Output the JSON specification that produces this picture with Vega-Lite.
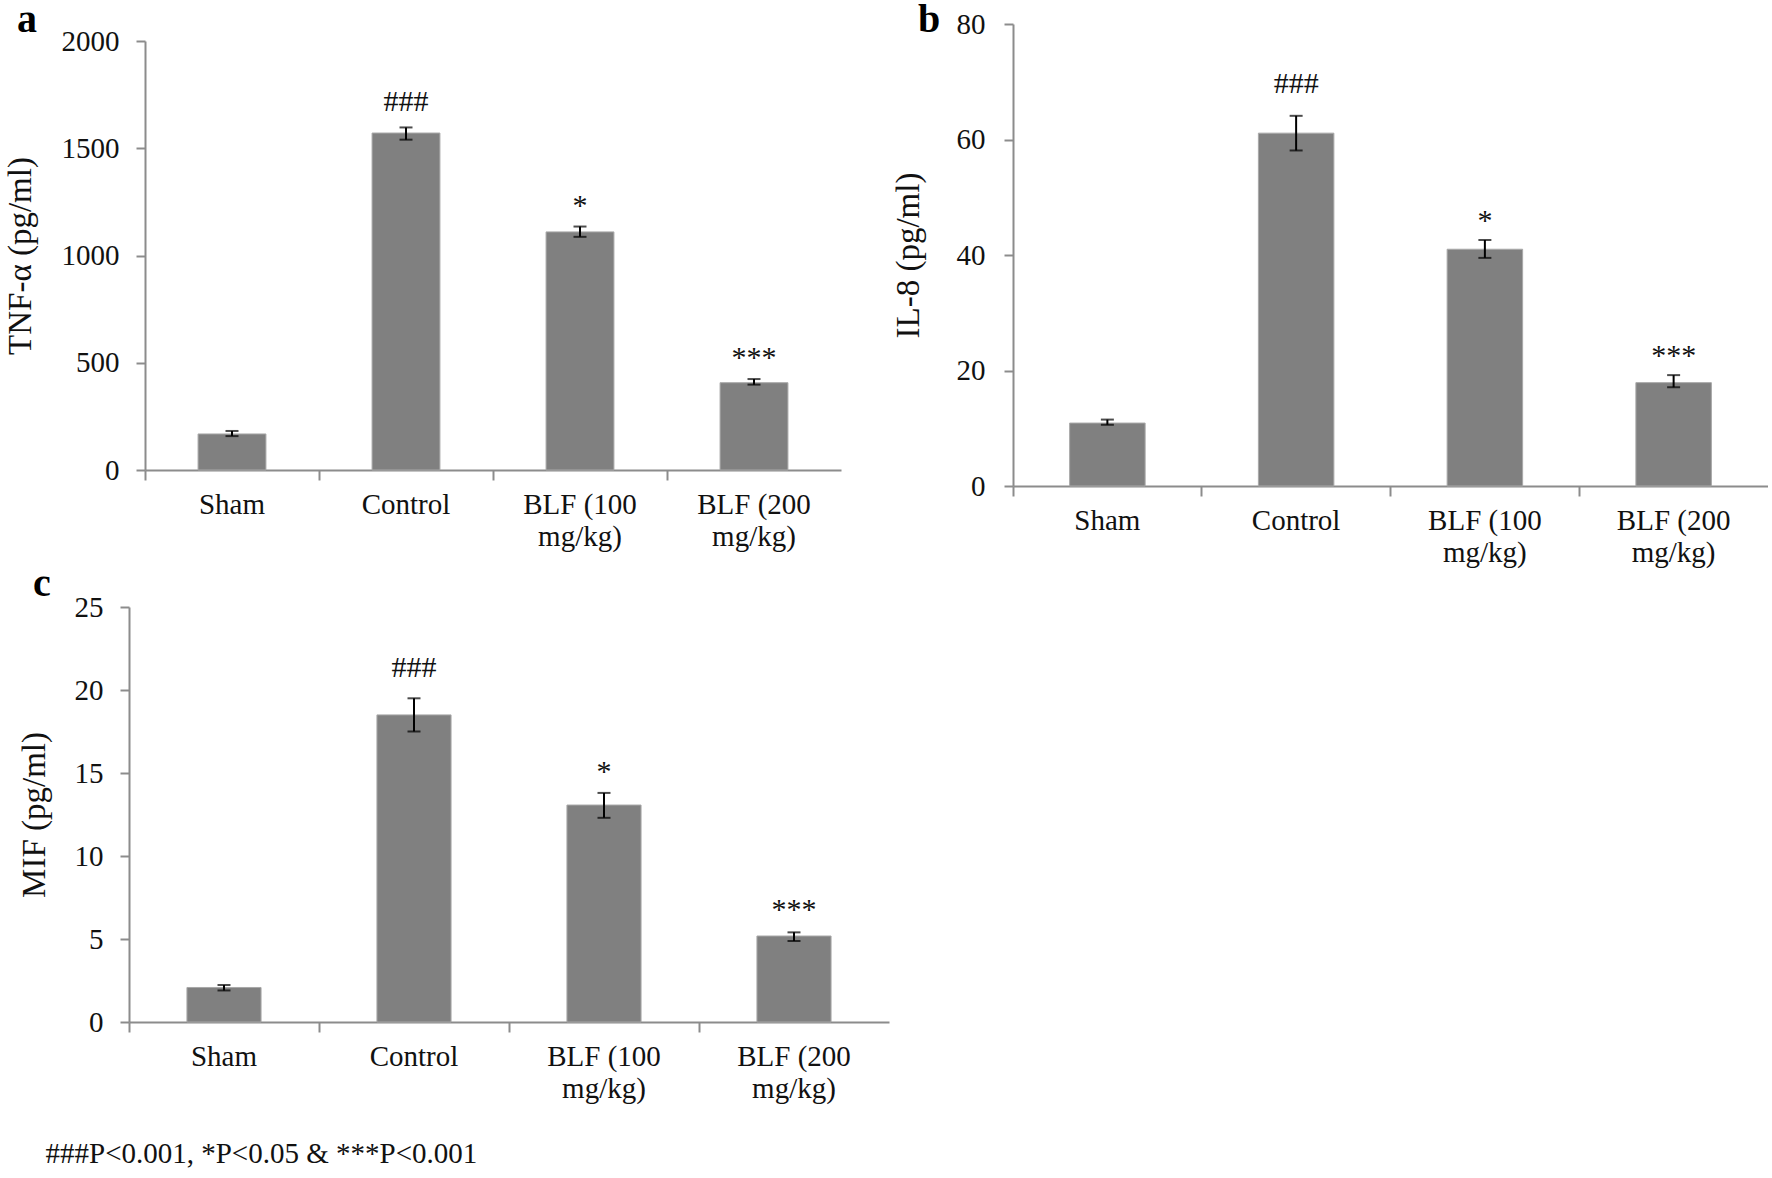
{
  "$schema": "https://vega.github.io/schema/vega-lite/v6.json",
  "background": "white",
  "padding": {"left": 4, "top": 0, "right": 0, "bottom": 0},
  "config": {
    "font": "Liberation Serif",
    "view": {"stroke": null},
    "axis": {
      "domainColor": "#8c8c8c", "domainWidth": 2,
      "tickColor": "#8c8c8c", "tickWidth": 2,
      "labelFont": "Liberation Serif", "labelFontSize": 29, "labelColor": "#111111",
      "titleFont": "Liberation Serif", "titleFontSize": 33, "titleFontWeight": "normal", "titleColor": "#111111",
      "grid": false
    },
    "axisX": {"labelAngle": 0, "tickSize": 10, "labelPadding": 10, "labelLineHeight": 32, "title": null, "bandPosition": 0},
    "axisY": {"tickSize": 9, "labelPadding": 17, "titlePadding": 24, "format": "d"},
    "title": {"font": "Liberation Serif", "fontWeight": "bold", "fontSize": 40, "color": "#000000", "anchor": "start"}
  },
  "datasets": {
    "a": [
      {"g": "Sham", "v": 168, "lo": 158, "hi": 182, "ann": "", "ay": 0},
      {"g": "Control", "v": 1571, "lo": 1540, "hi": 1597, "ann": "###", "ay": 1674},
      {"g": "BLF (100 mg/kg)", "v": 1110, "lo": 1087, "hi": 1135, "ann": "*", "ay": 1189},
      {"g": "BLF (200 mg/kg)", "v": 407, "lo": 398, "hi": 424, "ann": "***", "ay": 480}
    ],
    "b": [
      {"g": "Sham", "v": 10.9, "lo": 10.6, "hi": 11.5, "ann": "", "ay": 0},
      {"g": "Control", "v": 61.1, "lo": 58.1, "hi": 64.1, "ann": "###", "ay": 68},
      {"g": "BLF (100 mg/kg)", "v": 41.0, "lo": 39.5, "hi": 42.6, "ann": "*", "ay": 44.3},
      {"g": "BLF (200 mg/kg)", "v": 17.9, "lo": 17.1, "hi": 19.2, "ann": "***", "ay": 21}
    ],
    "c": [
      {"g": "Sham", "v": 2.08, "lo": 1.9, "hi": 2.23, "ann": "", "ay": 0},
      {"g": "Control", "v": 18.5, "lo": 17.5, "hi": 19.5, "ann": "###", "ay": 20.8},
      {"g": "BLF (100 mg/kg)", "v": 13.07, "lo": 12.3, "hi": 13.8, "ann": "*", "ay": 14.5},
      {"g": "BLF (200 mg/kg)", "v": 5.18, "lo": 4.88, "hi": 5.4, "ann": "***", "ay": 6.2}
    ]
  },
  "spacing": -3,
  "vconcat": [
    {
      "spacing": 51,
      "hconcat": [
        {
          "width": 696, "height": 446,
          "title": {"text": "a", "dx": 13, "dy": -14, "offset": -30},
          "data": {"name": "a"},
          "encoding": {"x": {"field": "g", "type": "nominal", "sort": null, "scale": {"paddingInner": 0, "paddingOuter": 0},
            "axis": {"labelExpr": "indexof(datum.value, 'mg') > 0 ? [slice(datum.value, 0, 8), slice(datum.value, 9)] : datum.value"}}},
          "layer": [
            {"mark": {"type": "bar", "width": {"band": 0.39}, "color": "#808080", "stroke": "#a8a8a8", "strokeWidth": 1},
             "encoding": {"y": {"field": "v", "type": "quantitative", "title": "TNF-α (pg/ml)", "scale": {"domain": [0, 2000], "range": [446, 17], "nice": false}, "axis": {"values": [0, 500, 1000, 1500, 2000]}}}},
            {"mark": {"type": "rule", "color": "#000000", "strokeWidth": 2},
             "encoding": {"y": {"field": "lo", "type": "quantitative", "title": "TNF-α (pg/ml)"}, "y2": {"field": "hi"}}},
            {"mark": {"type": "tick", "color": "#000000", "thickness": 2, "size": 13},
             "encoding": {"y": {"field": "lo", "type": "quantitative", "title": "TNF-α (pg/ml)"}}},
            {"mark": {"type": "tick", "color": "#000000", "thickness": 2, "size": 13},
             "encoding": {"y": {"field": "hi", "type": "quantitative", "title": "TNF-α (pg/ml)"}}},
            {"mark": {"type": "text", "font": "Liberation Serif", "fontSize": 30, "baseline": "alphabetic", "color": "#111111"},
             "encoding": {"y": {"field": "ay", "type": "quantitative", "title": "TNF-α (pg/ml)"}, "text": {"field": "ann"}}}
          ]
        },
        {
          "width": 755, "height": 462,
          "title": {"text": "b", "dx": 26, "offset": -30},
          "data": {"name": "b"},
          "encoding": {"x": {"field": "g", "type": "nominal", "sort": null, "scale": {"paddingInner": 0, "paddingOuter": 0},
            "axis": {"labelExpr": "indexof(datum.value, 'mg') > 0 ? [slice(datum.value, 0, 8), slice(datum.value, 9)] : datum.value"}}},
          "layer": [
            {"mark": {"type": "bar", "width": {"band": 0.4}, "color": "#808080", "stroke": "#a8a8a8", "strokeWidth": 1},
             "encoding": {"y": {"field": "v", "type": "quantitative", "title": "IL-8 (pg/ml)", "scale": {"domain": [0, 80], "nice": false}, "axis": {"values": [0, 20, 40, 60, 80], "labelPadding": 19, "titlePadding": 31}}}},
            {"mark": {"type": "rule", "color": "#000000", "strokeWidth": 2},
             "encoding": {"y": {"field": "lo", "type": "quantitative", "title": "IL-8 (pg/ml)"}, "y2": {"field": "hi"}}},
            {"mark": {"type": "tick", "color": "#000000", "thickness": 2, "size": 13},
             "encoding": {"y": {"field": "lo", "type": "quantitative", "title": "IL-8 (pg/ml)"}}},
            {"mark": {"type": "tick", "color": "#000000", "thickness": 2, "size": 13},
             "encoding": {"y": {"field": "hi", "type": "quantitative", "title": "IL-8 (pg/ml)"}}},
            {"mark": {"type": "text", "font": "Liberation Serif", "fontSize": 30, "baseline": "alphabetic", "color": "#111111"},
             "encoding": {"y": {"field": "ay", "type": "quantitative", "title": "IL-8 (pg/ml)"}, "text": {"field": "ann"}}}
          ]
        }
      ]
    },
    {
      "width": 760, "height": 415,
      "title": {"text": "c", "dx": 15, "dy": -19, "offset": -30},
      "data": {"name": "c"},
      "encoding": {"x": {"field": "g", "type": "nominal", "sort": null, "scale": {"paddingInner": 0, "paddingOuter": 0, "range": [-16, 744]},
        "axis": {"labelExpr": "indexof(datum.value, 'mg') > 0 ? [slice(datum.value, 0, 8), slice(datum.value, 9)] : datum.value",
          "title": "###P<0.001, *P<0.05 & ***P<0.001", "titleFontSize": 29, "titleAnchor": "start", "titleAlign": "left", "titlePadding": 36, "titleX": -100}}},
      "layer": [
        {"mark": {"type": "bar", "width": {"band": 0.39}, "color": "#808080", "stroke": "#a8a8a8", "strokeWidth": 1},
         "encoding": {"y": {"field": "v", "type": "quantitative", "title": "MIF (pg/ml)", "scale": {"domain": [0, 25], "nice": false}, "axis": {"values": [0, 5, 10, 15, 20, 25], "offset": 16, "titlePadding": 23}}}},
        {"mark": {"type": "rule", "color": "#000000", "strokeWidth": 2},
         "encoding": {"y": {"field": "lo", "type": "quantitative", "title": "MIF (pg/ml)"}, "y2": {"field": "hi"}}},
        {"mark": {"type": "tick", "color": "#000000", "thickness": 2, "size": 13},
         "encoding": {"y": {"field": "lo", "type": "quantitative", "title": "MIF (pg/ml)"}}},
        {"mark": {"type": "tick", "color": "#000000", "thickness": 2, "size": 13},
         "encoding": {"y": {"field": "hi", "type": "quantitative", "title": "MIF (pg/ml)"}}},
        {"mark": {"type": "text", "font": "Liberation Serif", "fontSize": 30, "baseline": "alphabetic", "color": "#111111"},
         "encoding": {"y": {"field": "ay", "type": "quantitative", "title": "MIF (pg/ml)"}, "text": {"field": "ann"}}}
      ]
    }
  ]
}
